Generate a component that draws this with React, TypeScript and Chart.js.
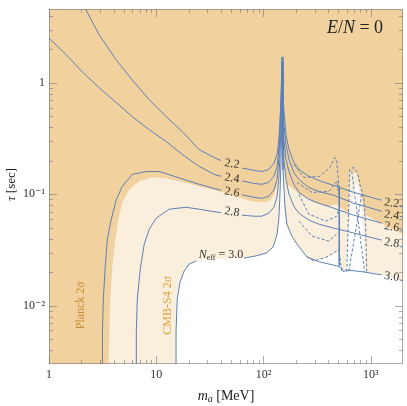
import React, { useEffect, useRef } from 'react';
import { Chart, registerables } from 'chart.js';

Chart.register(...registerables);

type Pt = [number, number] | null;

// ---------- axes ----------
const X_MIN = 1;
const X_MAX = 2000;
const Y_MIN = 0.003;
const Y_MAX = 4.6;

const xMajorTicks = [1, 10, 100, 1000];
const xMinorTicks = [2, 3, 4, 5, 6, 7, 8, 9, 20, 30, 40, 50, 60, 70, 80, 90, 200, 300, 400, 500, 600, 700, 800, 900];
const yMajorTicks = [0.01, 0.1, 1];
const yMinorTicks = [0.004, 0.005, 0.006, 0.007, 0.008, 0.009, 0.02, 0.03, 0.04, 0.05, 0.06, 0.07, 0.08, 0.09, 0.2, 0.3, 0.4, 0.5, 0.6, 0.7, 0.8, 0.9, 2, 3, 4];
const xTickValues = [1, 10, 100, 1000];
const xTickText = ['1', '10', '10²', '10³'];
const yTickValues = [0.01, 0.1, 1];
const yTickText = ['10⁻²', '10⁻¹', '1'];

// ---------- N_eff contours (m_a [MeV], tau [sec]); null = break for label ----------
const contour22: Pt[] = [
  [2.19, 4.6], [2.95, 2.68], [4.25, 1.6], [5.98, 1.06], [8.61, 0.705], [12.4, 0.497], [17.5, 0.365], [25.1, 0.252], [34.6, 0.214], [40.2, 0.201], null,
  [63.1, 0.172], [81.6, 0.164], [96.8, 0.16], [112, 0.167], [125, 0.189], [134, 0.228], [139, 0.31], [142, 0.422], [146, 0.781], [149, 1.71],
  [152, 0.781], [155, 0.574], [162, 0.343], [173, 0.252], [192, 0.193], [214, 0.167], [265, 0.145], [328, 0.133], [453, 0.12], [695, 0.104], [1266, 0.0884], null,
  [1860, 0.0781], [2000, 0.0765],
];
const contour24: Pt[] = [
  [1, 2.52], [1.455, 1.78], [2.05, 1.25], [2.95, 0.902], [4.25, 0.663], [5.98, 0.497], [8.61, 0.38], [12.4, 0.297], [17.5, 0.228], [25.1, 0.178], [34.6, 0.151], [40.2, 0.145], null,
  [63.1, 0.132], [81.6, 0.125], [96.8, 0.123], [112, 0.128], [125, 0.145], [134, 0.178], [139, 0.252], [142, 0.38], [146, 0.705], [149, 1.54],
  [152, 0.705], [155, 0.422], [162, 0.28], [173, 0.205], [192, 0.157], [214, 0.136], [265, 0.115], [328, 0.106], [453, 0.098], [695, 0.0831], [1266, 0.0705], null,
  [1860, 0.0636], [2000, 0.0623],
];
const contour26: Pt[] = [
  [3.15, 0.003], [3.15, 0.00586], [3.21, 0.0115], [3.35, 0.0228], [3.5, 0.0396], [3.81, 0.0598], [4.25, 0.0902], [4.83, 0.118], [5.98, 0.151], [8.07, 0.16],
  [10.7, 0.16], [14.7, 0.145], [25.1, 0.123], [36.9, 0.111], [40.2, 0.109], null,
  [63.1, 0.099], [81.6, 0.094], [96.8, 0.092], [112, 0.096], [125, 0.109], [134, 0.136], [139, 0.205], [142, 0.31], [146, 0.574], [149, 1.31],
  [152, 0.574], [155, 0.31], [162, 0.205], [173, 0.16], [192, 0.123], [214, 0.104], [265, 0.0902], [328, 0.0831], [453, 0.075], [695, 0.0649], [1266, 0.0551], null,
  [1860, 0.0477], [2000, 0.0467],
];
const contour28: Pt[] = [
  [6.52, 0.003], [6.52, 0.00586], [6.66, 0.0115], [7.1, 0.0214], [7.73, 0.0358], [8.61, 0.0487], [10, 0.0611], [13.2, 0.0735], [19, 0.0765], [25.1, 0.0735], [36.9, 0.0691], [40.2, 0.0685], null,
  [63.1, 0.0649], [81.6, 0.0636], [96.8, 0.0636], [112, 0.0677], [125, 0.0765], [134, 0.096], [139, 0.136], [142, 0.205], [146, 0.422], [149, 1.06],
  [152, 0.422], [155, 0.205], [162, 0.136], [173, 0.1], [192, 0.0781], [214, 0.0677], [265, 0.0586], [328, 0.054], [453, 0.0497], [695, 0.0449], [1266, 0.0388], null,
  [1860, 0.0343], [2000, 0.0336],
];
const contour30: Pt[] = [
  [15.3, 0.003], [15.3, 0.00586], [15.7, 0.0115], [16.7, 0.0164], [18.2, 0.0205], [20.3, 0.0237], [23.6, 0.0252], null,
  [65.9, 0.0268], [85.2, 0.028], [106, 0.0297], [123, 0.0336], [134, 0.0439], [139, 0.0598], [142, 0.0902], [146, 0.205], [149, 0.705],
  [152, 0.167], [158, 0.0814], [165, 0.054], [184, 0.0422], [205, 0.0358], [254, 0.0274], [335, 0.0247], [483, 0.0228], [537, 0.0218], [561, 0.0201], [585, 0.021],
  [861, 0.0201], [1266, 0.0189], null,
  [1860, 0.0171], [2000, 0.0167],
];

// ---------- dashed (alternative) contours ----------
const dashed1: Pt[] = [[192, 0.185], [238, 0.142], [335, 0.145], [416, 0.174], [463, 0.214], [483, 0.197], [504, 0.118]];
const dashed2: Pt[] = [[205, 0.128], [283, 0.104], [407, 0.106], [483, 0.131], [504, 0.1]];
const dashed3: Pt[] = [[214, 0.1], [265, 0.0663], [381, 0.0574], [483, 0.0636], [504, 0.0735]];
const dashed4: Pt[] = [[214, 0.0574], [283, 0.0422], [407, 0.038], [504, 0.0458]];
const dashed5: Pt[] = [[254, 0.0274], [295, 0.0252], [390, 0.0274], [483, 0.031], [504, 0.0323], [526, 0.0237], [537, 0.0205]];
const towerOutline: Pt[] = [[598, 0.0201], [638, 0.167], [695, 0.174], [741, 0.16], [773, 0.142], [790, 0.123], [861, 0.094], [898, 0.0507], [918, 0.0201]];
const towerDiag1: Pt[] = [[666, 0.16], [879, 0.0201]];
const towerDiag2: Pt[] = [[825, 0.1], [624, 0.0201]];
const etaStep: Pt[] = [[509, 0.118], [509, 0.0228]];

// ---------- shaded regions ----------
const cmbS4Box: Pt[] = [[1, 4.6], [2000, 4.6]];
const allowedRegion: Pt[] = [
  [15.3, 0.003], [15.3, 0.00586], [15.7, 0.0115], [16.7, 0.0164], [18.2, 0.0205], [20.3, 0.0237], [23.6, 0.0252], [38.5, 0.0263], [65.9, 0.0268],
  [85.2, 0.028], [106, 0.0297], [123, 0.0336], [134, 0.0439], [139, 0.0598], [142, 0.0902], [146, 0.205], [149, 0.705], [152, 0.167], [158, 0.0814],
  [165, 0.054], [184, 0.0422], [205, 0.0358], [254, 0.0274], [295, 0.0252], [390, 0.0274], [483, 0.031], [504, 0.0323], [526, 0.0237], [537, 0.0218],
  [585, 0.021], [611, 0.0396], [652, 0.0735], [710, 0.123], [773, 0.111], [842, 0.0598], [898, 0.0205], [1266, 0.0189], [2000, 0.0167],
];
const planckBoundary: Pt[] = [
  [1, 0.003], [3.58, 0.003], [3.65, 0.00586], [3.73, 0.0115], [3.9, 0.0228], [4.16, 0.0396], [4.43, 0.0598], [4.83, 0.0848], [5.61, 0.111], [6.95, 0.131],
  [9.18, 0.142], [12.4, 0.139], [16.4, 0.131], [25.1, 0.118], [44.8, 0.102], [78.2, 0.0866], [96.8, 0.0848], [112, 0.0866], [125, 0.098], [134, 0.12],
  [139, 0.174], [142, 0.268], [146, 0.518], [149, 1.11], [152, 0.467], [155, 0.252], [158, 0.16], [165, 0.123], [219, 0.1], [295, 0.0848], [390, 0.0781],
  [483, 0.0814], [611, 0.0677], [638, 0.16], [741, 0.154], [807, 0.111], [879, 0.0663], [1187, 0.0562], [2000, 0.0439],
];

// ---------- text annotations (anchored in data coords) ----------
const leftLabelM = 50.9;
const leftLabelTau = [0.187, 0.139, 0.104, 0.0691];
const leftLabelText = ['2.2', '2.4', '2.6', '2.8'];
const rightLabelM = 1568;
const rightLabelTau = [0.0831, 0.0649, 0.0507, 0.0365, 0.0182];
const rightLabelText = ['2.2', '2.4', '2.6', '2.8', '3.0'];
const neffLabelPos = [40.2, 0.0285];
const planckTextPos = [2.0, 0.0101];
const cmbTextPos = [12.7, 0.0101];

const SERIF = '"Liberation Serif", "DejaVu Serif", serif';
const BLUE = '#5E81B5';
const ORANGE_FILL = '#F1D19E';
const CREAM_FILL = '#FAEEDD';
const TICK_COLOR = 'rgba(110,110,110,0.55)';

const toXY = (arr: Pt[]) =>
  arr.map((p, i) => {
    if (p) return { x: p[0], y: p[1] };
    const prev = arr[i - 1] as [number, number];
    return { x: prev[0], y: null as any };
  });

type Part = { t: string; font: string; dy?: number };

function drawRich(ctx: CanvasRenderingContext2D, parts: Part[], cx: number, cy: number, angle: number, color: string) {
  ctx.save();
  ctx.translate(cx, cy);
  ctx.rotate(angle);
  ctx.fillStyle = color;
  ctx.textBaseline = 'middle';
  ctx.textAlign = 'left';
  let total = 0;
  const widths = parts.map((p) => {
    ctx.font = p.font;
    const w = ctx.measureText(p.t).width;
    total += w;
    return w;
  });
  let x = -total / 2;
  parts.forEach((p, i) => {
    ctx.font = p.font;
    ctx.fillText(p.t, x, p.dy || 0);
    x += widths[i];
  });
  ctx.restore();
}

const annotPlugin = {
  id: 'annot',
  afterDatasetsDraw(chart: any) {
    const { ctx, chartArea: a, scales } = chart;
    const xs = scales.x;
    const ys = scales.y;
    ctx.save();
    // inward ticks on all four sides
    ctx.strokeStyle = TICK_COLOR;
    ctx.lineWidth = 1;
    ctx.beginPath();
    const xt = (vals: number[], len: number) => {
      for (const v of vals) {
        const px = Math.round(xs.getPixelForValue(v)) + 0.5;
        ctx.moveTo(px, a.bottom);
        ctx.lineTo(px, a.bottom - len);
        ctx.moveTo(px, a.top);
        ctx.lineTo(px, a.top + len);
      }
    };
    const yt = (vals: number[], len: number) => {
      for (const v of vals) {
        const py = Math.round(ys.getPixelForValue(v)) + 0.5;
        ctx.moveTo(a.left, py);
        ctx.lineTo(a.left + len, py);
        ctx.moveTo(a.right, py);
        ctx.lineTo(a.right - len, py);
      }
    };
    xt(xMajorTicks, 8);
    xt(xMinorTicks, 4);
    yt(yMajorTicks, 8);
    yt(yMinorTicks, 4);
    ctx.stroke();
    ctx.strokeStyle = 'rgba(120,120,120,0.6)';
    ctx.strokeRect(a.left + 0.5, a.top + 0.5, a.right - a.left - 1, a.bottom - a.top - 1);

    // contour labels
    const lf = `12px ${SERIF}`;
    leftLabelTau.forEach((t, i) => {
      drawRich(ctx, [{ t: leftLabelText[i], font: lf }], xs.getPixelForValue(leftLabelM), ys.getPixelForValue(t), 0.16, '#333');
    });
    rightLabelTau.forEach((t, i) => {
      drawRich(ctx, [{ t: rightLabelText[i], font: lf }], xs.getPixelForValue(rightLabelM), ys.getPixelForValue(t), 0.16, '#333');
    });
    drawRich(
      ctx,
      [
        { t: 'N', font: `italic 12px ${SERIF}` },
        { t: 'eff', font: `8px ${SERIF}`, dy: 3 },
        { t: ' = 3.0', font: lf },
      ],
      xs.getPixelForValue(neffLabelPos[0]),
      ys.getPixelForValue(neffLabelPos[1]),
      0,
      '#333'
    );
    drawRich(ctx, [{ t: 'Planck 2σ', font: `12px ${SERIF}` }], xs.getPixelForValue(planckTextPos[0]), ys.getPixelForValue(planckTextPos[1]), -Math.PI / 2, '#C4913A');
    drawRich(ctx, [{ t: 'CMB-S4 2σ', font: `12px ${SERIF}` }], xs.getPixelForValue(cmbTextPos[0]), ys.getPixelForValue(cmbTextPos[1]), -Math.PI / 2, '#E3A23A');

    // panel label
    drawRich(
      ctx,
      [
        { t: 'E', font: `italic 18px ${SERIF}` },
        { t: '/', font: `18px ${SERIF}` },
        { t: 'N', font: `italic 18px ${SERIF}` },
        { t: ' = 0', font: `18px ${SERIF}` },
      ],
      a.right - 48,
      a.top + 19,
      0,
      '#222'
    );
    ctx.restore();
  },
  afterDraw(chart: any) {
    const { ctx, chartArea: a } = chart;
    const cy = (a.top + a.bottom) / 2;
    const cx = (a.left + a.right) / 2;
    drawRich(
      ctx,
      [
        { t: 'τ', font: `italic 13px ${SERIF}` },
        { t: ' [sec]', font: `13px ${SERIF}` },
      ],
      12,
      cy - 2,
      -Math.PI / 2,
      '#222'
    );
    drawRich(
      ctx,
      [
        { t: 'm', font: `italic 14px ${SERIF}` },
        { t: 'a', font: `italic 10px ${SERIF}`, dy: 3 },
        { t: ' [MeV]', font: `14px ${SERIF}` },
      ],
      cx,
      a.bottom + 32,
      0,
      '#222'
    );
  },
};

const tickLabel = (values: number[], texts: string[]) => (v: any) => {
  const n = Number(v);
  for (let i = 0; i < values.length; i++) {
    if (Math.abs(Math.log10(n) - Math.log10(values[i])) < 1e-6) return texts[i];
  }
  return '';
};

export default function App() {
  const ref = useRef<HTMLCanvasElement>(null);
  useEffect(() => {
    const solid = (data: Pt[]) => ({
      data: toXY(data),
      borderColor: BLUE,
      borderWidth: 1,
      pointRadius: 0,
      pointHoverRadius: 0,
      fill: false,
      spanGaps: false,
      tension: 0,
      order: 0,
    });
    const dashed = (data: Pt[]) => ({ ...solid(data), borderDash: [3, 2] });
    const region = (data: Pt[], color: string, fill: string, order: number) => ({
      data: toXY(data),
      borderWidth: 0,
      borderColor: 'rgba(0,0,0,0)',
      backgroundColor: color,
      pointRadius: 0,
      pointHoverRadius: 0,
      fill,
      tension: 0,
      order,
    });
    const chart = new Chart(ref.current as HTMLCanvasElement, {
      type: 'line',
      data: {
        datasets: [
          region(cmbS4Box, CREAM_FILL, 'start', 5),
          region(allowedRegion, '#FFFFFF', 'start', 4),
          region(planckBoundary, ORANGE_FILL, 'end', 3),
          solid(contour22),
          solid(contour24),
          solid(contour26),
          solid(contour28),
          solid(contour30),
          dashed(dashed1),
          dashed(dashed2),
          dashed(dashed3),
          dashed(dashed4),
          dashed(dashed5),
          dashed(towerOutline),
          dashed(towerDiag1),
          dashed(towerDiag2),
          solid(etaStep),
        ] as any,
      },
      options: {
        animation: false,
        responsive: false,
        devicePixelRatio: 1,
        events: [],
        layout: { padding: { left: 0, right: 0, top: 9, bottom: 0 } },
        plugins: { legend: { display: false }, tooltip: { enabled: false } },
        scales: {
          x: {
            type: 'logarithmic',
            min: X_MIN,
            max: X_MAX,
            grid: { display: false, drawTicks: false },
            border: { display: false },
            ticks: {
              autoSkip: false,
              maxRotation: 0,
              padding: 4,
              color: '#333',
              font: { family: SERIF, size: 12 },
              callback: tickLabel(xTickValues, xTickText),
            },
            afterFit: (s: any) => {
              s.height = 42;
            },
          },
          y: {
            type: 'logarithmic',
            min: Y_MIN,
            max: Y_MAX,
            grid: { display: false, drawTicks: false },
            border: { display: false },
            ticks: {
              autoSkip: false,
              padding: 4,
              color: '#333',
              font: { family: SERIF, size: 12, lineHeight: 0.8 },
              callback: tickLabel(yTickValues, yTickText),
            },
            afterFit: (s: any) => {
              s.width = 49;
            },
          },
        },
      } as any,
      plugins: [annotPlugin],
    });
    return () => chart.destroy();
  }, []);
  return (
    <canvas
      ref={ref}
      width={407}
      height={406}
      style={{ position: 'fixed', left: 0, top: 0, width: 407, height: 406 }}
    />
  );
}
